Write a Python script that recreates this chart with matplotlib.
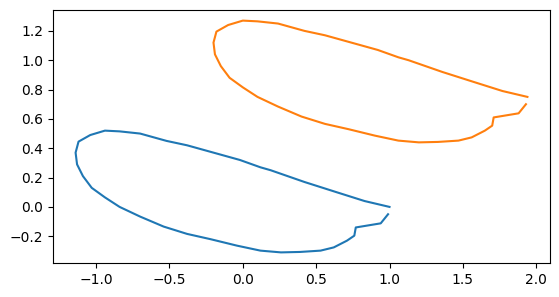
import matplotlib
matplotlib.use("Agg")
import matplotlib.pyplot as plt

# blue trajectory (x, y)
blue_x = [1.00, 0.83, 0.64, 0.42, 0.19, 0.12, -0.02, -0.20, -0.38, -0.52, -0.70,
          -0.84, -0.94, -1.04, -1.12, -1.14, -1.13, -1.09, -1.03, -0.94, -0.84,
          -0.70, -0.54, -0.38, -0.22, -0.04, 0.12, 0.26, 0.39, 0.53, 0.62, 0.71,
          0.76, 0.77, 0.94, 0.99]
blue_y = [0.00, 0.04, 0.10, 0.17, 0.25, 0.27, 0.32, 0.37, 0.42, 0.45, 0.50,
          0.515, 0.52, 0.49, 0.445, 0.37, 0.29, 0.21, 0.13, 0.065, 0.00,
          -0.066, -0.134, -0.184, -0.22, -0.264, -0.298, -0.31, -0.307, -0.298,
          -0.276, -0.23, -0.196, -0.14, -0.112, -0.05]

# orange trajectory (x, y)
orange_x = [1.94, 1.77, 1.58, 1.36, 1.13, 1.06, 0.92, 0.74, 0.56, 0.42, 0.24,
            0.10, 0.00, -0.10, -0.18, -0.20, -0.19, -0.15, -0.09, 0.00, 0.10,
            0.24, 0.40, 0.56, 0.72, 0.90, 1.06, 1.20, 1.33, 1.47, 1.56, 1.65,
            1.70, 1.71, 1.88, 1.93]
orange_y = [0.75, 0.79, 0.85, 0.92, 1.00, 1.02, 1.07, 1.12, 1.17, 1.20, 1.25,
            1.265, 1.27, 1.24, 1.195, 1.12, 1.04, 0.96, 0.88, 0.815, 0.75,
            0.684, 0.616, 0.566, 0.53, 0.486, 0.452, 0.44, 0.443, 0.452, 0.474,
            0.52, 0.554, 0.61, 0.638, 0.70]

fig = plt.figure(figsize=(5.59, 2.97), dpi=100)
ax = fig.add_axes([53 / 559, 34 / 297, 497 / 559, 253 / 297])
ax.plot(blue_x, blue_y, color="tab:blue")
ax.plot(orange_x, orange_y, color="tab:orange")
ax.set_aspect("equal", adjustable="datalim")

fig.savefig("out.png", dpi=100)
